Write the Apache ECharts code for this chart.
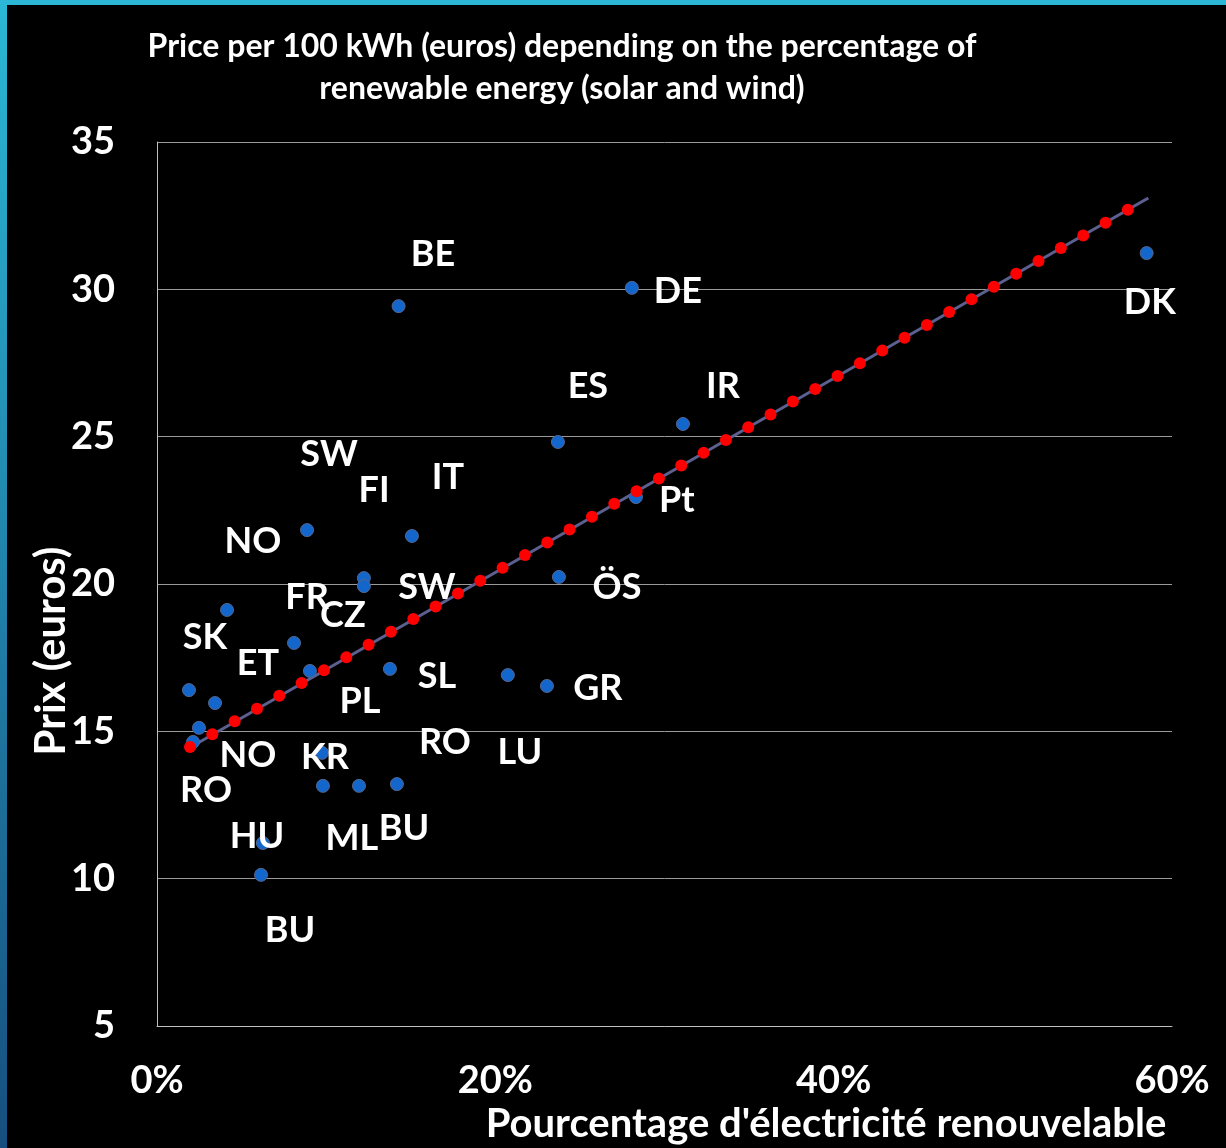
<!DOCTYPE html>
<html>
<head>
<meta charset="utf-8">
<style>
  html, body { margin: 0; padding: 0; background: #000; }
  #chart { width: 1226px; height: 1148px; }
</style>
<script src="https://cdn.jsdelivr.net/npm/echarts@6.0.0/dist/echarts.min.js"></script>
</head>
<body>
<div id="chart"></div>
<script>
// blue points: share of wind+solar (%) and price per 100 kWh (euros)
const pctRenew = [14.28, 28.07, 58.5, 23.70, 31.09, 28.31, 15.07, 8.87, 12.23, 12.23,
  23.76, 4.14, 8.10, 9.04, 13.77, 1.89, 3.43, 2.48, 2.13, 20.74,
  23.05, 9.75, 9.81, 11.94, 14.18, 6.26, 6.15]
const price = [29.43, 30.05, 31.23, 24.82, 25.43, 22.95, 21.63, 21.83, 20.20, 19.93,
  20.24, 19.12, 18.00, 17.05, 17.12, 16.40, 15.96, 15.12, 14.64, 16.91,
  16.54, 14.27, 13.15, 13.15, 13.21, 11.21, 10.13]

// red markers along the fitted line
const fitPct = [1.95, 3.27, 4.59, 5.91, 7.23, 8.55, 9.87, 11.19, 12.51, 13.83,
  15.15, 16.47, 17.79, 19.11, 20.43, 21.75, 23.07, 24.39, 25.71, 27.03,
  28.35, 29.67, 30.99, 32.31, 33.63, 34.95, 36.27, 37.59, 38.91, 40.23,
  41.55, 42.87, 44.19, 45.51, 46.83, 48.15, 49.47, 50.79, 52.11, 53.43,
  54.75, 56.07, 57.39]
const fitPrice = [14.47, 14.90, 15.34, 15.77, 16.21, 16.64, 17.07, 17.51, 17.94, 18.38,
  18.81, 19.24, 19.68, 20.11, 20.55, 20.98, 21.41, 21.85, 22.28, 22.72,
  23.15, 23.58, 24.02, 24.45, 24.89, 25.32, 25.75, 26.19, 26.62, 27.06,
  27.49, 27.92, 28.36, 28.79, 29.23, 29.66, 30.09, 30.53, 30.96, 31.40,
  31.83, 32.26, 32.70]

// trend line ends
const trendPct = [1.8, 58.6]
const trendPrice = [14.4, 33.1]

// country labels, placed in data space
const labelNames = ['BE', 'DE', 'DK', 'ES', 'IR', 'SW', 'FI', 'IT', 'Pt', 'NO',
  'FR', 'CZ', 'SW', 'ÖS', 'SK', 'ET', 'SL', 'PL', 'GR', 'NO',
  'KR', 'RO', 'LU', 'RO', 'HU', 'ML', 'BU', 'BU']
const labelPct = [16.31, 30.79, 58.69, 25.47, 33.45, 10.17, 12.83, 17.20, 30.73, 5.67,
  8.87, 10.99, 15.96, 27.19, 2.84, 5.97, 16.55, 12.00, 26.06, 5.38,
  9.93, 17.02, 21.45, 2.90, 5.91, 11.52, 14.60, 7.86]
const labelPrice = [31.17, 29.94, 29.57, 26.69, 26.69, 24.41, 23.19, 23.63, 22.85, 21.43,
  19.56, 18.92, 19.90, 19.90, 18.20, 17.32, 16.85, 16.03, 16.47, 14.20,
  14.13, 14.61, 14.30, 12.98, 11.42, 11.35, 11.72, 8.26]

const titleText = 'Price per 100 kWh (euros) depending on the percentage of\nrenewable energy (solar and wind)'
const xTitle = "Pourcentage d'électricité renouvelable"
const yTitle = 'Prix (euros)'

const font = 'Lato, "Open Sans", sans-serif'
const chart = echarts.init(document.getElementById('chart'))

const option = {
  backgroundColor: '#000',
  animation: false,
  title: {
    text: titleText,
    left: 557,
    top: 21,
    textAlign: 'center',
    textStyle: { color: '#fff', fontFamily: font, fontWeight: 'bold', fontSize: 32, lineHeight: 42 }
  },
  graphic: [
    { type: 'rect', left: 0, top: 0, shape: { width: 1226, height: 5 }, style: { fill: '#2bb7d5' } },
    {
      type: 'rect', left: 0, top: 0, shape: { width: 7, height: 1148 },
      style: {
        fill: new echarts.graphic.LinearGradient(0, 0, 0, 1, [
          { offset: 0, color: '#2bb7d5' },
          { offset: 1, color: '#164f7f' }
        ])
      }
    },
    {
      type: 'text', x: 51, y: 651, rotation: Math.PI / 2,
      style: { text: yTitle, fill: '#fff', font: 'bold 42px ' + font, align: 'center', verticalAlign: 'middle' }
    },
    {
      type: 'text', x: 826, y: 1124,
      style: { text: xTitle, fill: '#fff', font: 'bold 40px ' + font, align: 'center', verticalAlign: 'middle' }
    }
  ],
  grid: { left: 157, right: 54, top: 142, bottom: 122 },
  xAxis: {
    type: 'value',
    min: 0, max: 60, interval: 20,
    axisLine: { show: true, lineStyle: { color: '#bfbfbf', width: 1 } },
    axisTick: { show: false },
    splitLine: { show: false },
    axisLabel: {
      color: '#fff', fontFamily: font, fontWeight: 'bold', fontSize: 38, margin: 36,
      formatter: '{value}%'
    }
  },
  yAxis: {
    type: 'value',
    min: 5, max: 35, interval: 5,
    axisLine: { show: true, lineStyle: { color: '#bfbfbf', width: 1 } },
    axisTick: { show: false },
    splitLine: { show: true, lineStyle: { color: '#9a9a9a', width: 1 } },
    axisLabel: { color: '#fff', fontFamily: font, fontWeight: 'bold', fontSize: 38, margin: 42 }
  },
  series: [
    {
      name: 'trend',
      type: 'line',
      data: trendPct.map((x, i) => [x, trendPrice[i]]),
      showSymbol: false,
      lineStyle: { color: '#5c6090', width: 3 },
      z: 2
    },
    {
      name: 'countries',
      type: 'scatter',
      data: pctRenew.map((x, i) => [x, price[i]]),
      symbolSize: 13,
      itemStyle: { color: '#1366cc', borderColor: '#56648a', borderWidth: 1, opacity: 1 },
      z: 3
    },
    {
      name: 'fit',
      type: 'scatter',
      data: fitPct.map((x, i) => [x, fitPrice[i]]),
      symbolSize: 12,
      itemStyle: { color: '#ff0000', opacity: 1 },
      z: 4
    },
    {
      name: 'labels',
      type: 'scatter',
      data: labelPct.map((x, i) => ({ name: labelNames[i], value: [x, labelPrice[i]] })),
      symbolSize: 1,
      itemStyle: { color: 'transparent', opacity: 1 },
      silent: true,
      label: {
        show: true, position: 'inside', formatter: p => p.name, opacity: 1,
        color: '#ffffff', textBorderWidth: 0,
        fontFamily: font, fontWeight: 'bold', fontSize: 36
      },
      z: 5
    }
  ]
}

chart.setOption(option)
</script>
</body>
</html>
